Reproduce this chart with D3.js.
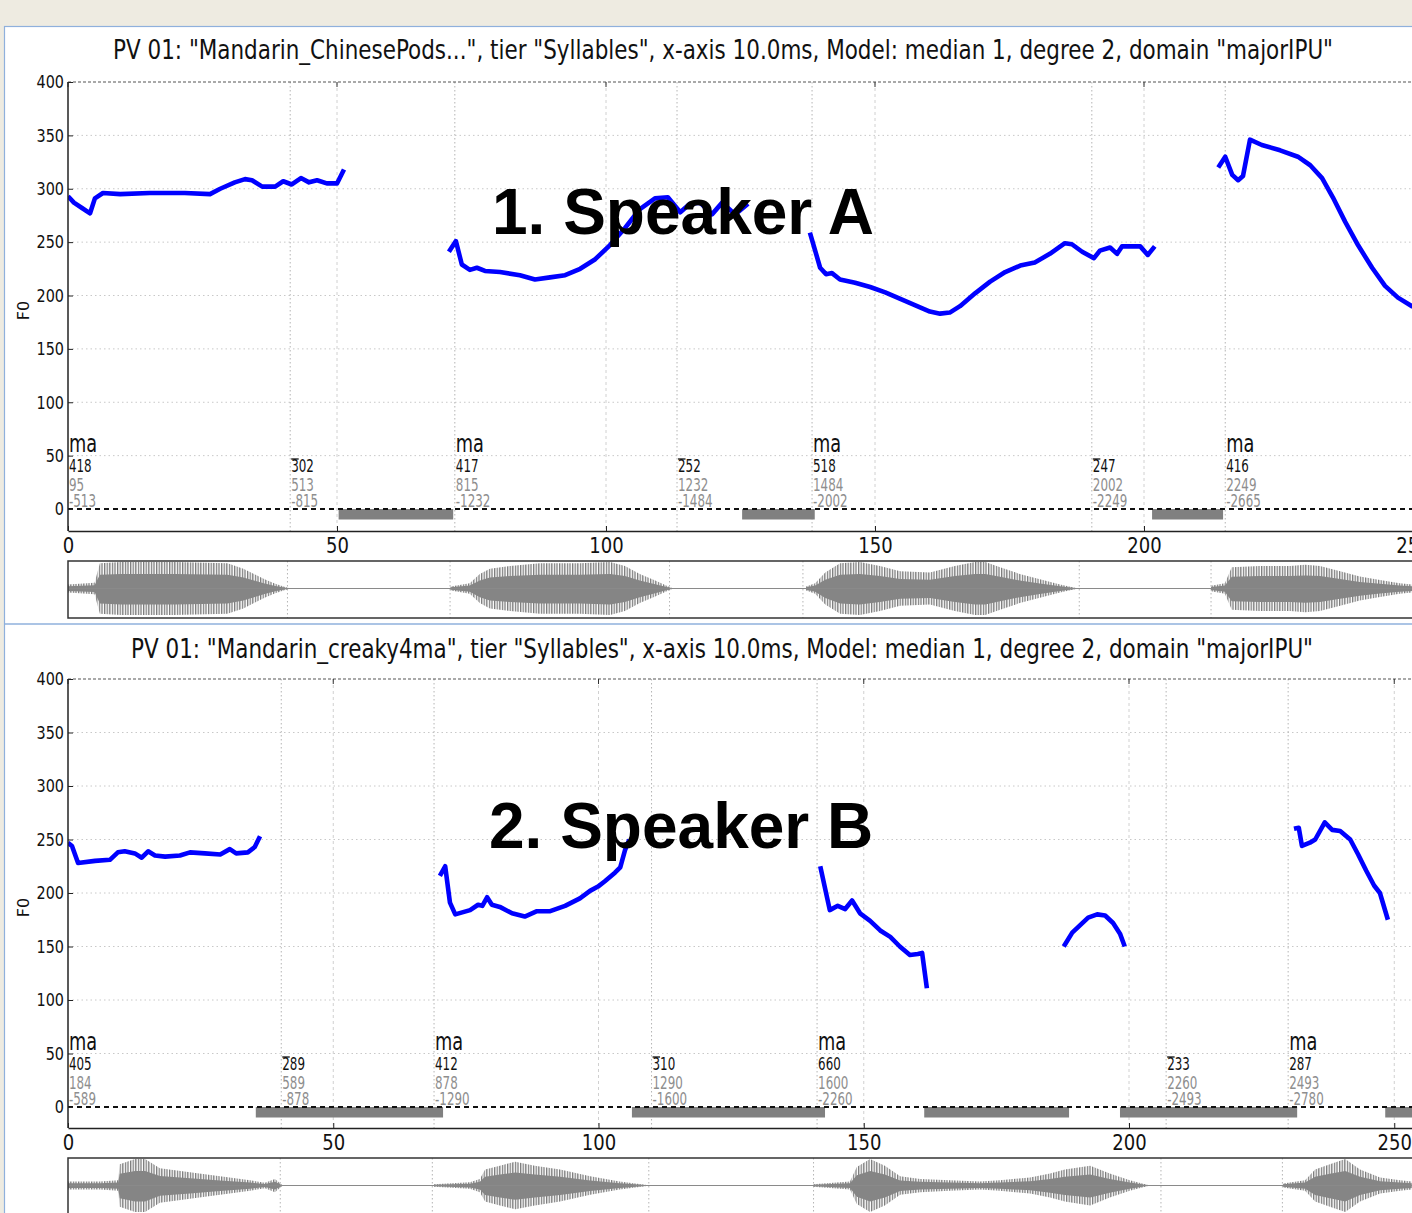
<!DOCTYPE html>
<html><head><meta charset="utf-8">
<script src="https://cdn.jsdelivr.net/npm/d3@7"></script>
<style>html,body{margin:0;padding:0;background:#eeebe1;overflow:hidden}</style>
</head><body>
<script>
// ---------------- DATA ----------------
const yTicks = [0, 50, 100, 150, 200, 250, 300, 350, 400];
const xTicks = [0, 50, 100, 150, 200, 250];

const titleA = 'PV 01: "Mandarin_ChinesePods...", tier "Syllables", x-axis 10.0ms, Model: median 1, degree 2, domain "majorIPU"';
const titleB = 'PV 01: "Mandarin_creaky4ma", tier "Syllables", x-axis 10.0ms, Model: median 1, degree 2, domain "majorIPU"';
const bigA = "1. Speaker A";
const bigB = "2. Speaker B";

// syllable boundaries (x units) and their labels
const boundsA = [0, 41.3, 71.9, 113.2, 138.3, 190.3, 215.1];
const sylA    = ["ma", "", "ma", "", "ma", "", "ma"];
const num1A   = ["418", "302", "417", "252", "518", "247", "416"];
const num2A   = ["95", "513", "815", "1232", "1484", "2002", "2249"];
const num3A   = ["-513", "-815", "-1232", "-1484", "-2002", "-2249", "-2665"];
const pausesA = [[50.3, 71.6], [125.3, 138.8], [201.5, 214.7]];

const boundsB = [0, 40.2, 69.0, 110.0, 141.2, 207.0, 230.0];
const sylB    = ["ma", "", "ma", "", "ma", "", "ma"];
const num1B   = ["405", "289", "412", "310", "660", "233", "287"];
const num2B   = ["184", "589", "878", "1290", "1600", "2260", "2493"];
const num3B   = ["-589", "-878", "-1290", "-1600", "-2260", "-2493", "-2780"];
const pausesB = [[35.4, 70.7], [106.3, 142.7], [161.4, 188.7], [198.3, 231.7], [248.3, 262]];

// F0 contours: [time, Hz]
const f0A1 = [[0,293],[1.1,287],[2.6,282],[4.1,277],[5.0,291],[6.5,296],[9.7,295],[15.2,296],[21.7,296],[26.4,295],[28.3,300],[31.0,306],[32.9,309],[34.2,308],[36.1,302],[38.5,302],[40.0,307],[41.6,304],[43.3,310],[44.8,306],[46.3,308],[48.1,305],[50.0,305],[51.3,318]];
const f0A2 = [[70.8,241],[72.1,251],[73.2,229],[74.7,224],[76.0,226],[77.5,223],[80.3,222],[84.0,219],[86.8,215],[89.6,217],[92.4,219],[95.2,225],[98.0,234],[100.7,247],[103.5,263],[106.3,281],[109.1,291],[111.5,292],[113.8,278],[115.6,286],[117.5,287],[119.7,276],[121.6,287],[124.0,276],[126.4,286]];
const f0A3 = [[137.9,259],[139.8,226],[140.9,220],[142.0,221],[143.5,215],[146.3,212],[149.1,208],[151.9,203],[154.6,197],[157.4,191],[160.2,185],[162.1,183],[163.9,184],[165.8,190],[168.6,202],[171.4,213],[174.2,222],[177.0,228],[179.7,231],[182.5,239],[185.3,249],[186.6,248],[188.5,241],[190.7,235],[191.8,242],[193.7,245],[195.0,239],[195.9,246],[199.3,246],[200.7,238],[202.0,246]];
const f0A4 = [[213.8,320],[215.1,330],[216.4,313],[217.5,308],[218.4,312],[219.7,346],[221.9,341],[225.3,336],[228.6,330],[230.9,322],[233.1,310],[235.1,292],[237.4,269],[239.8,247],[242.4,226],[244.8,209],[247.2,198],[249.8,190],[252.0,189]];

const f0B1 = [[0,247],[0.75,244],[1.9,228],[5.1,230],[7.9,231],[9.4,238],[10.7,239],[12.6,237],[13.9,233],[15.1,239],[16.4,235],[18.3,234],[21.1,235],[23.0,238],[25.8,237],[28.7,236],[30.5,241],[31.7,237],[33.9,238],[35.2,243],[36.2,253]];
const f0B2 = [[70.1,216],[71.1,225],[72.0,191],[73.0,180],[75.8,184],[77.3,189],[78.1,188],[79.0,196],[79.9,189],[81.4,187],[83.7,181],[86.1,178],[88.4,183],[90.9,183],[93.7,188],[96.5,195],[98.4,202],[99.9,206],[101.2,211],[103.1,219],[104.1,224],[105.0,240],[105.8,250]];
const f0B3 = [[141.8,225],[143.6,184],[145.1,188],[146.5,185],[147.8,193],[149.3,181],[151.2,174],[153.1,165],[155.0,159],[156.8,150],[158.7,142],[160.2,143],[161.0,144],[161.9,111]];
const f0B4 = [[187.7,150],[189.3,163],[190.8,170],[192.3,177],[194.0,180],[195.5,179],[197.0,172],[198.3,162],[199.2,150]];
const f0B5 = [[231.1,260],[232.0,261],[232.6,244],[234.1,247],[235.1,250],[236.9,266],[238.3,259],[239.8,258],[241.7,250],[243.2,236],[244.7,221],[246.2,207],[247.3,200],[248.8,175]];

// waveform amplitude envelopes: [time, relative amplitude]
const waveA1 = [[0,0.15],[5,0.22],[6,0.95],[10,1],[20,1],[30,0.95],[33,0.75],[35,0.55],[37,0.35],[39,0.18],[41,0.05],[42,0]];
const waveA2 = [[72,0.08],[75.6,0.2],[77.5,0.55],[79.4,0.75],[83.2,0.85],[88.8,0.95],[96.3,0.95],[102,1],[104.8,0.85],[107.6,0.55],[110.5,0.3],[113.3,0.05],[114,0]];
const waveA3 = [[138.9,0.08],[140.6,0.2],[142.5,0.6],[145.3,0.95],[149,1],[152.8,0.85],[156.6,0.65],[162.2,0.6],[166.9,0.85],[170.7,1],[172.6,1],[175.4,0.8],[179.1,0.55],[182.9,0.35],[186.7,0.15],[189.5,0.03],[190.4,0]];
const waveA4 = [[215.1,0.1],[217.7,0.2],[219,0.8],[224.3,0.85],[230,0.85],[232.8,0.9],[235.6,0.85],[239.4,0.65],[243.1,0.45],[246.9,0.32],[250.6,0.2],[253,0.15]];

const waveB1 = [[0,0.15],[6.1,0.15],[9.5,0.2],[9.8,0.8],[12.7,1],[14.6,1],[17.4,0.65],[23.1,0.5],[28.8,0.35],[34.5,0.2],[37.3,0.1],[39.2,0.25],[40.5,0.03],[41,0]];
const waveB2 = [[69.3,0.05],[76.1,0.12],[78,0.25],[79,0.6],[81.8,0.75],[84.7,0.9],[88.4,0.75],[93.2,0.6],[98.9,0.35],[104.5,0.15],[109.3,0.03],[110,0]];
const waveB3 = [[141.1,0.05],[148.1,0.15],[149.4,0.7],[151.9,1],[154.7,0.75],[157.6,0.35],[161.4,0.25],[167,0.2],[172.7,0.15],[176.5,0.2],[182.2,0.3],[186,0.45],[188.8,0.6],[193.6,0.75],[197.3,0.45],[201.1,0.2],[204,0.05],[205,0]];
const waveB4 = [[230.1,0.08],[234.3,0.2],[236.2,0.6],[239,0.8],[241.9,1],[244.7,0.6],[248.5,0.3],[252.3,0.2],[254.5,0.15]];

// ---------------- DRAWING ----------------
const W = 1412, H = 1213;
const FONT = "'DejaVu Sans', 'Noto Sans', sans-serif";
const svg = d3.select("body").append("svg").attr("width", W).attr("height", H)
  .style("display", "block");

const defs = svg.append("defs");
const pat = defs.append("pattern").attr("id", "stripes").attr("patternUnits", "userSpaceOnUse")
  .attr("width", 2.6).attr("height", 10);
pat.append("rect").attr("width", 1.3).attr("height", 10).attr("fill", "#7a7a7a");

svg.append("rect").attr("width", W).attr("height", H).attr("fill", "#eeebe1");
svg.append("rect").attr("x", 4.5).attr("y", 26.5).attr("width", W).attr("height", H)
  .attr("fill", "#ffffff").attr("stroke", "#8fb0dc").attr("stroke-width", 1.2);
svg.append("line").attr("x1", 4.5).attr("x2", W).attr("y1", 624).attr("y2", 624)
  .attr("stroke", "#8fb0dc").attr("stroke-width", 1.5);

function stext(g, x, y, s, size, sx, anchor, color) {
  return g.append("text")
    .attr("transform", `translate(${x},${y}) scale(${sx},1)`)
    .attr("text-anchor", anchor).attr("font-family", FONT)
    .attr("font-size", size).attr("fill", color).text(s);
}

const panels = [
  { title: titleA, titleX: 723, titleY: 59, titleW: 1220, big: bigA, bigX: 492, bigY: 234,
    pxPerUnit: 5.38, yTop: 82, yZero: 509, yBottom: 531, waveTop: 561, waveBottom: 618, wavePx: 5.314,
    bounds: boundsA, syl: sylA, n1: num1A, n2: num2A, n3: num3A, pauses: pausesA,
    f0: [f0A1, f0A2, f0A3, f0A4], wave: [waveA1, waveA2, waveA3, waveA4], id: "A" },
  { title: titleB, titleX: 722, titleY: 658, titleW: 1182, big: bigB, bigX: 489, bigY: 848,
    pxPerUnit: 5.305, yTop: 679, yZero: 1107, yBottom: 1128, waveTop: 1158, waveBottom: 1215, wavePx: 5.28,
    bounds: boundsB, syl: sylB, n1: num1B, n2: num2B, n3: num3B, pauses: pausesB,
    f0: [f0B1, f0B2, f0B3, f0B4, f0B5], wave: [waveB1, waveB2, waveB3, waveB4], id: "B" }
];

panels.forEach(p => {
  const g = svg.append("g");
  const L = 68, R = 1450;
  const x = d3.scaleLinear().domain([0, (R - L) / p.pxPerUnit]).range([L, R]);
  const y = d3.scaleLinear().domain([0, 400]).range([p.yZero, p.yTop]);

  g.append("text").attr("x", p.titleX).attr("y", p.titleY).attr("text-anchor", "middle")
    .attr("font-family", FONT).attr("font-size", 27).attr("fill", "#111")
    .attr("textLength", p.titleW).attr("lengthAdjust", "spacingAndGlyphs").text(p.title);

  defs.append("clipPath").attr("id", "clip" + p.id).append("rect")
    .attr("x", L).attr("y", p.yTop - 2).attr("width", R - L).attr("height", p.yBottom - p.yTop + 2);

  g.append("g").selectAll("line").data(yTicks.filter(v => v > 0 && v < 400)).join("line")
    .attr("x1", L).attr("x2", R).attr("y1", d => y(d)).attr("y2", d => y(d))
    .attr("stroke", "#c8c8c8").attr("stroke-width", 1).attr("stroke-dasharray", "1.5,3");
  g.append("g").selectAll("line").data(xTicks.filter(v => v > 0)).join("line")
    .attr("x1", d => x(d)).attr("x2", d => x(d)).attr("y1", p.yTop).attr("y2", p.yBottom)
    .attr("stroke", "#d0d0d0").attr("stroke-width", 1).attr("stroke-dasharray", "3,3");
  g.append("g").selectAll("line").data(p.bounds.filter(v => v > 0)).join("line")
    .attr("x1", d => x(d)).attr("x2", d => x(d)).attr("y1", p.yTop).attr("y2", p.yBottom)
    .attr("stroke", "#b4b4b4").attr("stroke-width", 1).attr("stroke-dasharray", "1.5,2.5");

  g.append("line").attr("x1", L).attr("x2", R).attr("y1", y(400)).attr("y2", y(400))
    .attr("stroke", "#555").attr("stroke-width", 1.2).attr("stroke-dasharray", "3,2");

  g.append("g").attr("clip-path", `url(#clip${p.id})`).selectAll("rect").data(p.pauses).join("rect")
    .attr("x", d => x(d[0])).attr("width", d => x(d[1]) - x(d[0]))
    .attr("y", y(0)).attr("height", 10.5).attr("fill", "#808080");

  g.append("line").attr("x1", L).attr("x2", R).attr("y1", y(0)).attr("y2", y(0))
    .attr("stroke", "#111").attr("stroke-width", 2).attr("stroke-dasharray", "5,4");

  const ann = g.append("g");
  p.bounds.forEach((b, i) => {
    const bx = x(b) + 1;
    if (p.syl[i]) stext(ann, bx, y(0) - 57, p.syl[i], 24, 0.74, "start", "#111");
    stext(ann, bx, y(0) - 37, p.n1[i], 17, 0.7, "start", "#111");
    if (!p.syl[i]) {
      ann.append("line").attr("x1", bx).attr("x2", bx + 7.5)
        .attr("y1", y(0) - 50).attr("y2", y(0) - 50).attr("stroke", "#111").attr("stroke-width", 1.3);
    }
    stext(ann, bx, y(0) - 18, p.n2[i], 17, 0.7, "start", "#8e8e8e");
    stext(ann, bx, y(0) - 2, p.n3[i], 17, 0.7, "start", "#8e8e8e");
  });

  const line = d3.line().x(d => x(d[0])).y(d => y(d[1]));
  g.append("g").attr("clip-path", `url(#clip${p.id})`).selectAll("path").data(p.f0).join("path")
    .attr("d", line).attr("fill", "none").attr("stroke", "#0000ff")
    .attr("stroke-width", 4.6).attr("stroke-linejoin", "round");

  const xAxis = d3.axisBottom(x).tickValues(xTicks).tickSize(-5).tickPadding(6).tickSizeOuter(0);
  const xa = g.append("g").attr("transform", `translate(0,${p.yBottom})`).call(xAxis);
  xa.select(".domain").attr("stroke", "#222").attr("stroke-width", 1.5);
  xa.selectAll(".tick line").attr("stroke", "#222");
  xa.selectAll("text").attr("font-family", FONT).attr("font-size", 22).attr("fill", "#111")
    .attr("transform", "scale(0.82,1)");
  g.append("g").selectAll("line").data(xTicks).join("line")
    .attr("x1", d => x(d)).attr("x2", d => x(d)).attr("y1", p.yTop).attr("y2", p.yTop + 5)
    .attr("stroke", "#333");

  const yAxis = d3.axisLeft(y).tickValues(yTicks).tickSize(-5).tickPadding(5).tickSizeOuter(0);
  const ya = g.append("g").attr("transform", `translate(${L},0)`).call(yAxis);
  ya.select(".domain").remove();
  ya.selectAll(".tick line").attr("stroke", "#222");
  ya.selectAll("text").attr("font-family", FONT).attr("font-size", 18).attr("fill", "#111")
    .attr("transform", "scale(0.8,1)");
  g.append("line").attr("x1", L).attr("x2", L).attr("y1", p.yTop).attr("y2", p.yBottom)
    .attr("stroke", "#222").attr("stroke-width", 1.5);

  g.append("text").attr("transform", `translate(29,${(p.yTop + p.yBottom) / 2 + 4}) rotate(-90)`)
    .attr("text-anchor", "middle").attr("font-family", FONT).attr("font-size", 16)
    .attr("fill", "#111").text("F0");

  g.append("text").attr("x", p.bigX).attr("y", p.bigY).attr("font-family", "'Liberation Sans', Arial, sans-serif")
    .attr("font-weight", "bold").attr("font-size", 64).attr("fill", "#000").text(p.big);

  // waveform
  const wx = d3.scaleLinear().domain([0, (R - L) / p.wavePx]).range([L, R]);
  const wc = (p.waveTop + p.waveBottom) / 2 - 1;
  const half = 26.5;
  defs.append("clipPath").attr("id", "wclip" + p.id).append("rect")
    .attr("x", L).attr("y", p.waveTop).attr("width", R - L).attr("height", p.waveBottom - p.waveTop);
  const wg = g.append("g").attr("clip-path", `url(#wclip${p.id})`);
  wg.selectAll("line.wb").data(p.bounds.filter(v => v > 0)).join("line").attr("class", "wb")
    .attr("x1", d => wx(d)).attr("x2", d => wx(d)).attr("y1", p.waveTop).attr("y2", p.waveBottom)
    .attr("stroke", "#b4b4b4").attr("stroke-dasharray", "1.5,2.5");
  const outer = d3.area().x(d => wx(d[0])).y0(d => wc - d[1] * half).y1(d => wc + d[1] * half);
  const inner = d3.area().x(d => wx(d[0])).y0(d => wc - d[1] * half * 0.55).y1(d => wc + d[1] * half * 0.6);
  wg.selectAll("path.outer").data(p.wave).join("path").attr("class", "outer")
    .attr("d", outer).attr("fill", "url(#stripes)");
  wg.selectAll("path.inner").data(p.wave).join("path").attr("class", "inner")
    .attr("d", inner).attr("fill", "#858585");
  wg.append("line").attr("x1", L).attr("x2", R).attr("y1", wc).attr("y2", wc)
    .attr("stroke", "#8a8a8a").attr("stroke-width", 1.2);
  g.append("rect").attr("x", L).attr("y", p.waveTop).attr("width", R - L).attr("height", p.waveBottom - p.waveTop)
    .attr("fill", "none").attr("stroke", "#333").attr("stroke-width", 1.5);
});
</script>
</body></html>
